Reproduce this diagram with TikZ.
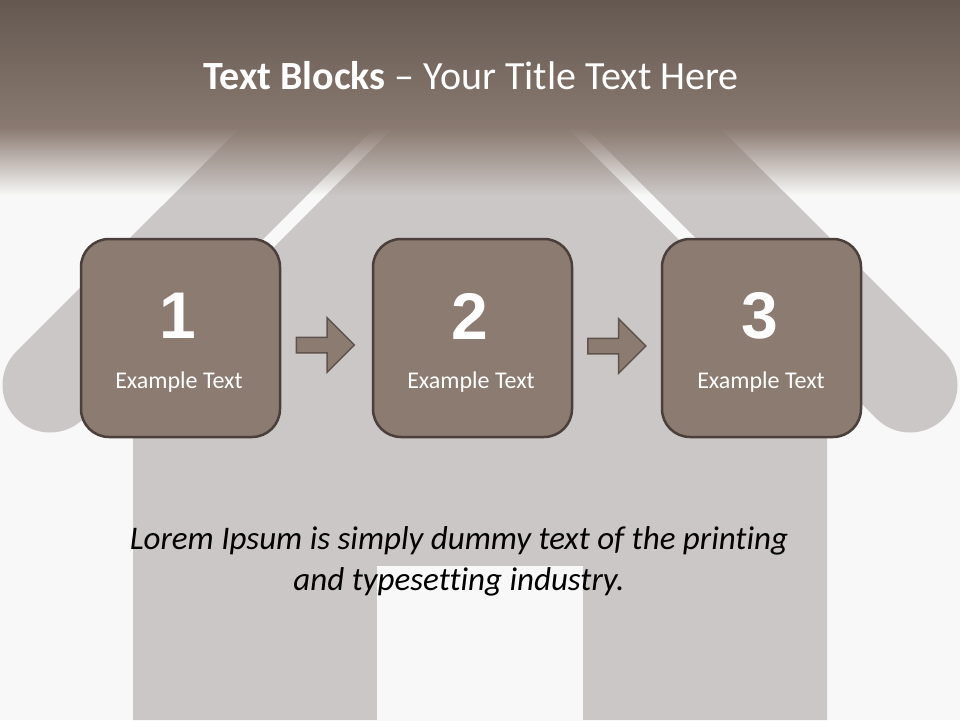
\documentclass[tikz,border=0pt]{standalone}
\usepackage{fontspec}
\setmainfont{Carlito}[Ligatures=NoCommon]
\newfontfamily\digitfont{Liberation Sans}
\usetikzlibrary{fadings,shapes.arrows,calc}
\definecolor{bg}{RGB}{248,248,248}
\definecolor{house}{RGB}{203,199,198}
\definecolor{boxfill}{RGB}{139,123,113}
\definecolor{boxline}{RGB}{74,63,58}
\definecolor{arrline}{RGB}{95,83,77}
\definecolor{bandtop}{RGB}{98,87,80}
\definecolor{bandbot}{RGB}{138,122,112}
\tikzfading[name=fadedown, top color=transparent!0, bottom color=transparent!100]
\tikzset{
  stepbox/.style={draw=boxline, line width=2.5pt, fill=boxfill, rounded corners=28pt,
    minimum width=199pt, minimum height=198pt, inner sep=0pt},
  numtext/.style={text=white, font=\digitfont\bfseries\fontsize{66}{70}\selectfont},
  labtext/.style={text=white, font=\fontsize{24}{28}\selectfont},
  blockarrow/.style={single arrow, draw=arrline, fill=boxfill, line width=1.5pt,
    inner sep=0pt, inner ysep=7pt, minimum height=58pt, single arrow head extend=19.5pt,
    single arrow tip angle=90},
}
\begin{document}
\begin{tikzpicture}[x=1pt,y=-1pt]
\fill[bg] (0,0) rectangle (960,720);
\useasboundingbox (0,0) rectangle (960,720);
% house
\draw[house, line width=95pt, line cap=round, line join=miter] (50,385) -- (480,-44.5) -- (910,385);
\fill[house] (133,720) -- (133,388) -- (480,41) -- (827,388) -- (827,720) -- cycle;
\fill[bg] (377,566) rectangle (583,720);
% title band
\shade[top color=bandtop, bottom color=bandbot] (-5,-5) rectangle (965,128);
\fill[bandbot, path fading=fadedown] (-20,127.5) rectangle (980,195);
\node[text=white, font=\fontsize{40}{46}\selectfont] (title) at (471,76) {\textbf{Text Blocks} – Your Title Text Here};
% boxes
\node[stepbox] (b1) at (180.5,338) {};
\node[stepbox] (b2) at (472.5,338) {};
\node[stepbox] (b3) at (761.5,338) {};
\node[numtext] (n1) at (178,316) {1};
\node[numtext] (n2) at (470,316) {2};
\node[numtext] (n3) at (760,316) {3};
\node[labtext] (l1) at (179,382) {Example Text};
\node[labtext] (l2) at (471,382) {Example Text};
\node[labtext] (l3) at (761,382) {Example Text};
% arrows
\node[blockarrow] (a1) at ($(b1.east)!0.5!(b2.west)+(-5,7)$) {};
\node[blockarrow] (a2) at ($(b2.east)!0.5!(b3.west)+(-4,8)$) {};
% body text
\node[align=center, font=\itshape\fontsize{33}{41}\selectfont] (body) at (459,561)
  {Lorem Ipsum is simply dummy text of the printing\\and typesetting industry.};
\end{tikzpicture}
\end{document}
